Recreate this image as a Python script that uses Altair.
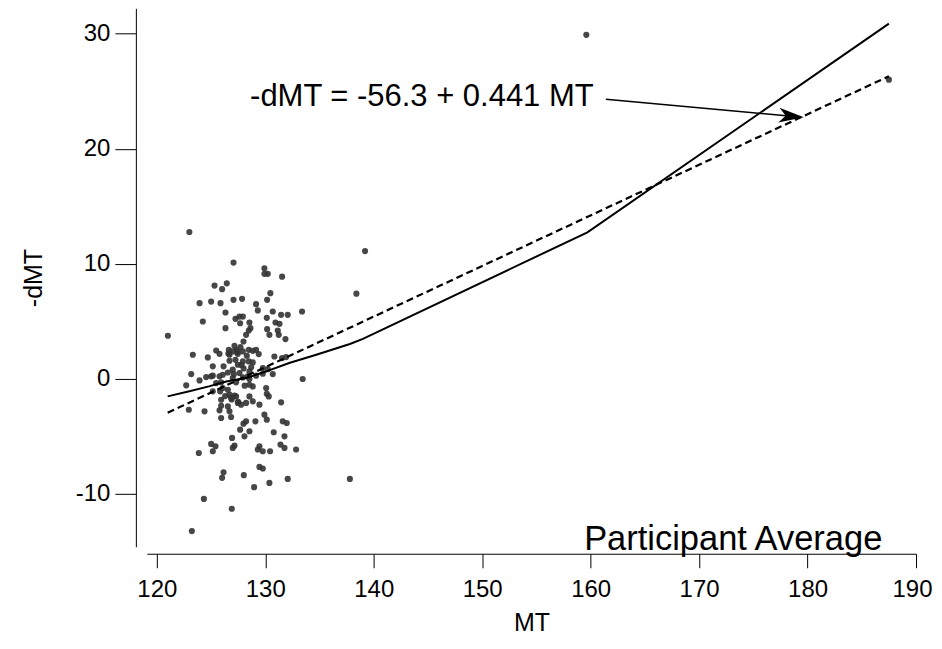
import altair as alt
import pandas as pd

# ---- scatter data (participant averages) ----
mt_vals = [
    127.07, 129.92, 129.92, 130.23, 131.55, 126.45, 125.32, 126.02, 130.47, 123.94,
    125.01, 125.87, 127.07, 127.86, 130.17, 129.15, 129.31, 126.33, 130.69, 131.46,
    132.07, 133.39, 127.25, 127.62, 127.93, 128.54, 127.68, 130.14, 124.24, 130.94,
    131.31, 126.33, 128.63, 128.48, 130.17, 131.15, 128.23, 130.38, 131.24, 131.86,
    127.99, 121.02, 127.16, 127.71, 127.37, 127.00, 125.47, 126.64, 128.48, 128.85,
    129.40, 127.93, 128.30, 129.15, 126.70, 127.47, 125.78, 123.32, 124.70, 130.84,
    131.55, 131.92, 126.70, 127.25, 127.93, 128.48, 126.15, 125.16, 127.47, 128.85,
    129.77, 130.23, 127.00, 126.55, 127.62, 128.54, 126.08, 123.17, 130.69, 125.78,
    125.16, 124.55, 125.01, 127.00, 127.93, 128.39, 128.54, 129.15, 129.77, 123.94,
    133.45, 122.71, 125.47, 125.93, 127.31, 128.54, 128.85, 126.08, 126.55, 130.08,
    125.16, 125.84, 126.70, 127.16, 126.85, 127.31, 128.54, 130.14, 130.32, 128.85,
    128.23, 127.77, 127.47, 129.46, 125.93, 131.46, 125.93, 126.55, 122.95, 124.40,
    125.78, 126.70, 129.92, 125.93, 126.85, 130.14, 128.23, 127.99, 129.09, 131.61,
    131.98, 127.68, 128.54, 126.94, 128.08, 130.78, 131.77, 125.01, 125.41, 125.16,
    127.16, 127.00, 129.46, 129.31, 129.77, 130.44, 131.40, 131.77, 132.84, 123.87,
    129.46, 129.77, 126.15, 126.02, 128.02, 132.07, 130.38, 128.97, 124.34, 126.91,
    123.23, 137.80, 123.00, 139.20, 138.40, 159.60, 187.50,
    127.40, 126.90, 127.80, 128.10, 126.30, 127.10, 128.70, 126.60, 127.50, 128.00,
]
dmt_vals = [
    10.10, 9.61, 9.12, 9.12, 8.88, 8.30, 8.10, 7.79, 7.44, 6.57,
    6.71, 6.57, 6.86, 6.95, 6.86, 6.49, 5.94, 5.76, 5.85, 5.56,
    5.56, 5.85, 5.21, 5.41, 5.41, 4.89, 4.83, 5.30, 4.98, 4.89,
    4.78, 4.40, 4.40, 4.20, 4.31, 4.20, 3.82, 3.82, 3.82, 3.45,
    3.24, 3.74, 2.87, 2.75, 2.52, 2.38, 2.46, 2.52, 2.52, 2.43,
    2.15, 2.38, 2.00, 2.52, 2.09, 2.17, 2.17, 2.09, 1.86, 1.94,
    1.80, 1.89, 1.57, 1.65, 1.51, 1.51, 1.08, 1.08, 1.22, 1.42,
    0.93, 0.84, 0.79, 0.55, 0.50, 0.64, 0.35, 0.41, 0.41, 0.21,
    0.27, 0.15, 0.21, 0.06, 0.12, 0.21, -0.02, 0.27, 0.44, -0.14,
    -0.02, -0.57, -0.37, -0.31, -0.31, -0.52, -0.66, -0.80, -0.95, -0.80,
    -1.09, -1.09, -1.38, -1.47, -1.67, -1.53, -1.53, -1.30, -1.53, -1.96,
    -2.10, -2.25, -2.10, -2.25, -1.82, -2.05, -2.34, -2.40, -2.69, -2.83,
    -2.74, -2.83, -3.12, -3.41, -3.32, -3.55, -3.70, -3.90, -3.70, -3.70,
    -3.84, -4.42, -4.56, -5.14, -5.00, -4.65, -5.00, -5.66, -5.86, -6.30,
    -5.81, -6.01, -5.86, -6.15, -6.30, -6.30, -5.72, -6.01, -6.15, -6.45,
    -7.66, -7.80, -8.12, -8.61, -8.38, -8.70, -9.05, -9.42, -10.44, -11.30,
    -13.24, -8.70, 12.76, 11.10, 7.40, 29.90, 26.00,
    2.30, -1.80, 1.20, -0.60, -1.50, 0.40, 1.00, 2.20, -2.00, 0.90,
]

# ---- smoothed (lowess-like) curve ----
smooth_mt = [121.0, 123.0, 124.8, 126.4, 128.2, 130.1, 132.2, 134.7, 137.8, 139.0, 159.7, 187.5]
smooth_dmt = [-1.53, -1.09, -0.66, -0.23, 0.07, 0.64, 1.37, 2.09, 3.02, 3.47, 12.73, 30.87]

# ---- linear fit (dashed) ----
fit_mt = [121.0, 187.5]
fit_dmt = [-2.95, 26.3]

# ---- annotations ----
eq_label = ["-dMT = -56.3 + 0.441 MT"]
eq_mt = [128.6]
eq_dmt = [24.47]
arrow_mt = [161.4, 179.0]
arrow_dmt = [24.3, 22.78]
arrowhead_mt = [179.65]
arrowhead_dmt = [22.73]
panel_label = ["Participant Average"]
panel_mt = [159.4]
panel_dmt = [-14.0]

x_ticks = [120, 130, 140, 150, 160, 170, 180, 190]
y_ticks = [-10, 0, 10, 20, 30]

FONT = "Liberation Sans"

pts = pd.DataFrame({"MT": mt_vals, "dMT": dmt_vals})
smooth = pd.DataFrame({"MT": smooth_mt, "dMT": smooth_dmt})
fit = pd.DataFrame({"MT": fit_mt, "dMT": fit_dmt})
eq = pd.DataFrame({"MT": eq_mt, "dMT": eq_dmt, "label": eq_label})
arrow = pd.DataFrame({"MT": arrow_mt, "dMT": arrow_dmt})
head = pd.DataFrame({"MT": arrowhead_mt, "dMT": arrowhead_dmt})
panel = pd.DataFrame({"MT": panel_mt, "dMT": panel_dmt, "label": panel_label})

xs = alt.Scale(domain=[119.08, 190], nice=False, zero=False)
ys = alt.Scale(domain=[-14.6, 32.2], nice=False, zero=False)

x_axis = alt.Axis(values=x_ticks, title="MT", offset=7, tickSize=14, labelPadding=10,
                  titlePadding=9, labelFlush=False, labelOverlap=False, grid=False,
                  labelExpr="'' + datum.value",
                  labelOffset={"condition": {"test": "datum.value === 190", "value": -4}, "value": 0})
y_axis = alt.Axis(values=y_ticks, title="-dMT", offset=11, tickSize=21, labelPadding=5,
                  titlePadding=29, labelOverlap=False, grid=False,
                  labelExpr="'' + datum.value")


def X():
    return alt.X("MT:Q", scale=xs, axis=x_axis)


def Y():
    return alt.Y("dMT:Q", scale=ys, axis=y_axis)


points = alt.Chart(pts).mark_circle(size=38, color="#333333", opacity=0.9).encode(x=X(), y=Y())
smooth_line = alt.Chart(smooth).mark_line(color="black", strokeWidth=2).encode(x=X(), y=Y())
fit_line = alt.Chart(fit).mark_line(color="black", strokeWidth=2.2, strokeDash=[7, 4]).encode(x=X(), y=Y())
eq_text = alt.Chart(eq).mark_text(align="left", baseline="middle", fontSize=31, font=FONT,
                                  color="black").encode(x=X(), y=Y(), text="label:N")
arrow_line = alt.Chart(arrow).mark_line(color="black", strokeWidth=1.5).encode(x=X(), y=Y())
arrow_head = alt.Chart(head).mark_point(
    shape="M 0 0 L -2 -0.6 L -1.45 0 L -2 0.6 Z", size=625, filled=True, color="black",
    opacity=1, strokeWidth=0, angle=5).encode(x=X(), y=Y())
panel_text = alt.Chart(panel).mark_text(align="left", baseline="middle", fontSize=34.5, font=FONT,
                                        color="black").encode(x=X(), y=Y(), text="label:N")

chart = alt.layer(points, smooth_line, fit_line, arrow_line, arrow_head, eq_text, panel_text).properties(
    width=770, height=539,
    padding={"left": 139, "top": 0, "right": 18, "bottom": 90},
    autosize=alt.AutoSizeParams(type="none"),
).configure_view(stroke=None).configure_axis(
    domainColor="black", tickColor="black", labelColor="black", titleColor="black",
    labelFont=FONT, titleFont=FONT, labelFontSize=24, titleFontSize=25,
    titleFontWeight="normal", domainWidth=1, tickWidth=1,
)

chart.save("out.html", embed_options={"renderer": "svg", "actions": False})
